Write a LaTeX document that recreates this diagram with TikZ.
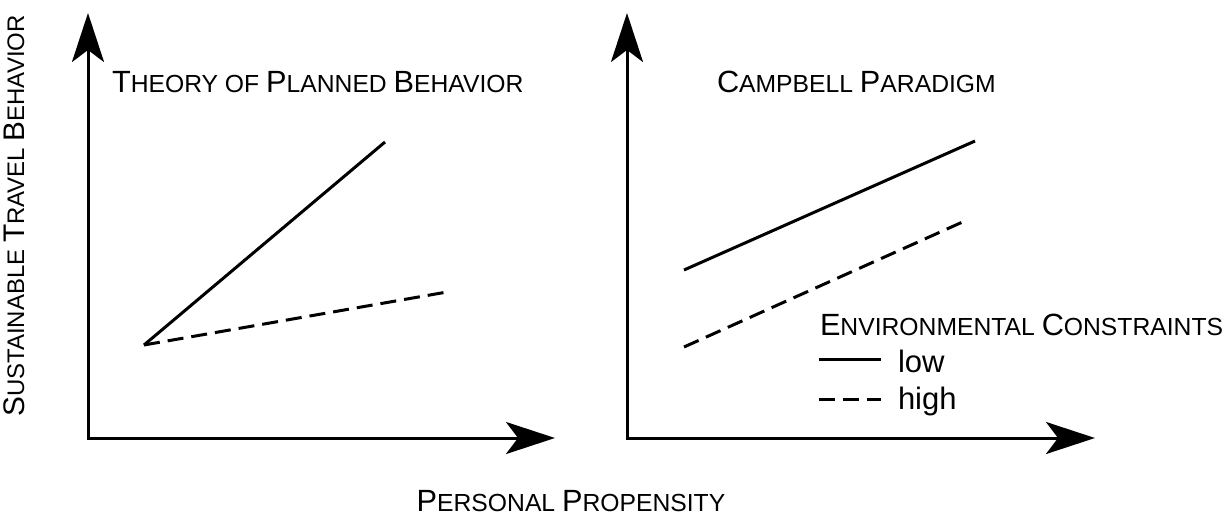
\documentclass[tikz,border=0pt]{standalone}
\usepackage{fontspec}
\setmainfont{Liberation Sans}
\usetikzlibrary{arrows.meta}
\newcommand\BigC[1]{{\fontsize{30.7}{31}\selectfont #1}}
\newcommand\SmC[1]{{\fontsize{24.7}{25}\selectfont #1}}
\begin{document}
\begin{tikzpicture}[x=1pt,y=-1pt,
  axis/.style={line width=3pt, line join=miter, {Stealth[length=49pt,width=32pt,inset=12pt]}-{Stealth[length=49pt,width=32pt,inset=12pt]}},
  curve/.style={line width=3pt},
  dashcurve/.style={line width=3pt, dash pattern=on 16pt off 8pt},
  lbl/.style={inner sep=0pt, outer sep=0pt},
  leg/.style={inner sep=0pt, outer sep=0pt, font=\fontsize{31}{32}\selectfont}]
\useasboundingbox (0,0) rectangle (1231,515);
% left panel
\coordinate (lyt) at (88,13);
\coordinate (lo) at (88,438);
\coordinate (lxt) at (555,438);
\draw[axis] (lyt) -- (lo) -- (lxt);
\coordinate (ls) at (144,345);
\coordinate (lse) at (385,142);
\coordinate (lde) at (447,292);
\draw[curve] (ls) -- (lse);
\draw[dashcurve] (ls) -- (lde);
\node[lbl, anchor=base west] (t1) at (112,92) {\BigC{T}\SmC{HEORY OF }\BigC{P}\SmC{LANNED }\BigC{B}\SmC{EHAVIOR}};
% right panel
\coordinate (ryt) at (627,13);
\coordinate (ro) at (627,438);
\coordinate (rxt) at (1095,438);
\draw[axis] (ryt) -- (ro) -- (rxt);
\coordinate (rs1) at (684,270);
\coordinate (re1) at (975,141);
\coordinate (rs2) at (684,347);
\coordinate (re2) at (967,220);
\draw[curve] (rs1) -- (re1);
\draw[dashcurve] (rs2) -- (re2);
\node[lbl, anchor=base west] (t2) at (717,92) {\BigC{C}\SmC{AMPBELL }\BigC{P}\SmC{ARADIGM}};
% legend
\node[lbl, anchor=base west] (lgt) at (820,335) {\BigC{E}\SmC{NVIRONMENTAL }\BigC{C}\SmC{ONSTRAINTS}};
\coordinate (l1a) at (819,359);
\coordinate (l1b) at (881,359);
\coordinate (l2a) at (819,399);
\coordinate (l2b) at (881,399);
\draw[curve] (l1a) -- (l1b);
\draw[dashcurve] (l2a) -- (l2b);
\node[leg, anchor=base west] (low) at (898,372) {low};
\node[leg, anchor=base west] (high) at (898,409) {high};
% axis labels
\node[lbl, rotate=90, anchor=base, scale=0.97, transform shape] (yl) at (24,216) {\BigC{S}\SmC{USTAINABLE }\BigC{T}\SmC{RAVEL }\BigC{B}\SmC{EHAVIOR}};
\node[lbl, anchor=base] (xl) at (571,511) {\BigC{P}\SmC{ERSONAL }\BigC{P}\SmC{ROPENSITY}};
\end{tikzpicture}
\end{document}
